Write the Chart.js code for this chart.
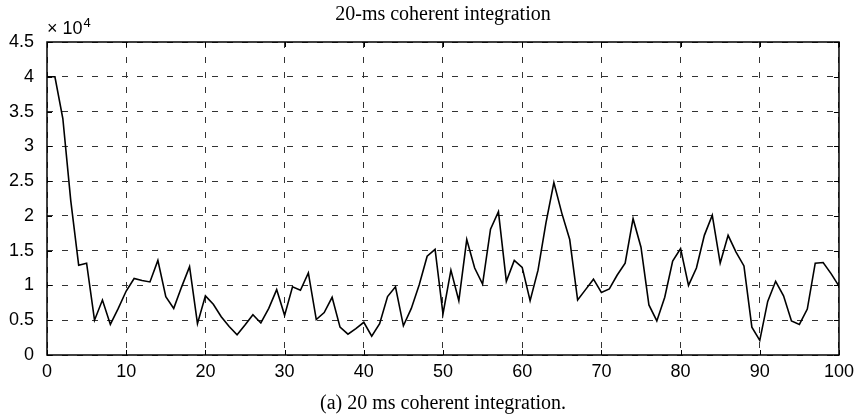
<!DOCTYPE html>
<html>
<head>
<meta charset="utf-8">
<title>20-ms coherent integration</title>
<script src="https://cdn.jsdelivr.net/npm/chart.js@4.4.1/dist/chart.umd.min.js"></script>
<style>
  html, body { margin: 0; padding: 0; background: #fff; }
</style>
</head>
<body>
<canvas id="corrChart" width="860" height="420"></canvas>
<script>
// correlation output per sample, in units of 10^4
const corrValues = [
  4.00, 4.00, 3.40, 2.22, 1.29, 1.32, 0.50, 0.79, 0.44, 0.67,
  0.92, 1.10, 1.07, 1.05, 1.36, 0.84, 0.67, 0.98, 1.27, 0.45,
  0.85, 0.73, 0.55, 0.41, 0.29, 0.43, 0.58, 0.46, 0.67, 0.94,
  0.57, 0.98, 0.93, 1.18, 0.51, 0.61, 0.83, 0.40, 0.30, 0.38,
  0.47, 0.27, 0.45, 0.84, 0.98, 0.42, 0.67, 1.01, 1.42, 1.52,
  0.59, 1.22, 0.78, 1.66, 1.25, 1.02, 1.81, 2.06, 1.06, 1.36,
  1.26, 0.78, 1.22, 1.90, 2.48, 2.04, 1.66, 0.79, 0.94, 1.09,
  0.90, 0.95, 1.15, 1.32, 1.96, 1.55, 0.72, 0.49, 0.83, 1.35,
  1.53, 1.00, 1.25, 1.72, 2.01, 1.32, 1.72, 1.48, 1.28, 0.40,
  0.21, 0.77, 1.06, 0.85, 0.49, 0.44, 0.66, 1.32, 1.33, 1.17,
  0.99
];
const xTicks = [0, 10, 20, 30, 40, 50, 60, 70, 80, 90, 100];
const yTicks = [0, 0.5, 1, 1.5, 2, 2.5, 3, 3.5, 4, 4.5];
const titleText = '20-ms coherent integration';
const captionText = '(a) 20 ms coherent integration.';

const points = corrValues.map((v, i) => ({ x: i, y: v }));

// matlab style box, inward ticks and the extra texts
const matlabFrame = {
  id: 'matlabFrame',
  afterDraw(chart) {
    const { ctx, chartArea: a, scales: { x, y } } = chart;
    ctx.save();
    ctx.strokeStyle = '#000';
    ctx.lineWidth = 1;
    ctx.beginPath();
    xTicks.forEach(v => {
      const px = Math.round(x.getPixelForValue(v)) + 0.5;
      ctx.moveTo(px, a.bottom); ctx.lineTo(px, a.bottom - 5);
      ctx.moveTo(px, a.top); ctx.lineTo(px, a.top + 5);
    });
    yTicks.forEach(v => {
      const py = Math.round(y.getPixelForValue(v)) + 0.5;
      ctx.moveTo(a.left, py); ctx.lineTo(a.left + 5, py);
      ctx.moveTo(a.right, py); ctx.lineTo(a.right - 5, py);
    });
    ctx.stroke();
    ctx.lineWidth = 1.5;
    ctx.strokeRect(a.left, a.top, a.right - a.left, a.bottom - a.top);

    ctx.fillStyle = '#000';
    ctx.textBaseline = 'alphabetic';
    ctx.textAlign = 'center';
    ctx.font = '20px "Liberation Serif"';
    const cx = (a.left + a.right) / 2;
    ctx.fillText(titleText, cx, 20);
    ctx.fillText(captionText, cx, 409);

    ctx.textAlign = 'left';
    ctx.font = '18px "Liberation Sans"';
    ctx.fillText('\u00d7 10', a.left, 34);
    const w = ctx.measureText('\u00d7 10').width;
    ctx.font = '13px "Liberation Sans"';
    ctx.fillText('4', a.left + w + 1, 27);
    ctx.restore();
  }
};

new Chart(document.getElementById('corrChart'), {
  type: 'line',
  data: {
    datasets: [{
      data: points,
      borderColor: '#000',
      borderWidth: 1.6,
      pointRadius: 0,
      tension: 0,
      fill: false
    }]
  },
  options: {
    responsive: false,
    animation: false,
    layout: { padding: { top: 42, right: 18, left: 0, bottom: 0 } },
    plugins: { legend: { display: false }, tooltip: { enabled: false } },
    scales: {
      x: {
        type: 'linear',
        min: 0,
        max: 100,
        afterBuildTicks: s => { s.ticks = xTicks.map(v => ({ value: v })); },
        afterFit: s => { s.height = 65; },
        ticks: {
          color: '#000',
          padding: 6,
          maxRotation: 0,
          font: { family: '"Liberation Sans"', size: 18 },
          callback: v => String(v)
        },
        grid: { color: '#333', lineWidth: 1, drawTicks: false },
        border: { display: false, dash: [6, 9] }
      },
      y: {
        min: 0,
        max: 4.5,
        afterBuildTicks: s => { s.ticks = yTicks.map(v => ({ value: v })); },
        afterFit: s => { s.width = 47; },
        ticks: {
          color: '#000',
          padding: 13,
          font: { family: '"Liberation Sans"', size: 18 },
          callback: v => String(v)
        },
        grid: { color: '#333', lineWidth: 1, drawTicks: false },
        border: { display: false, dash: [6, 9] }
      }
    }
  },
  plugins: [matlabFrame]
});
</script>
</body>
</html>
